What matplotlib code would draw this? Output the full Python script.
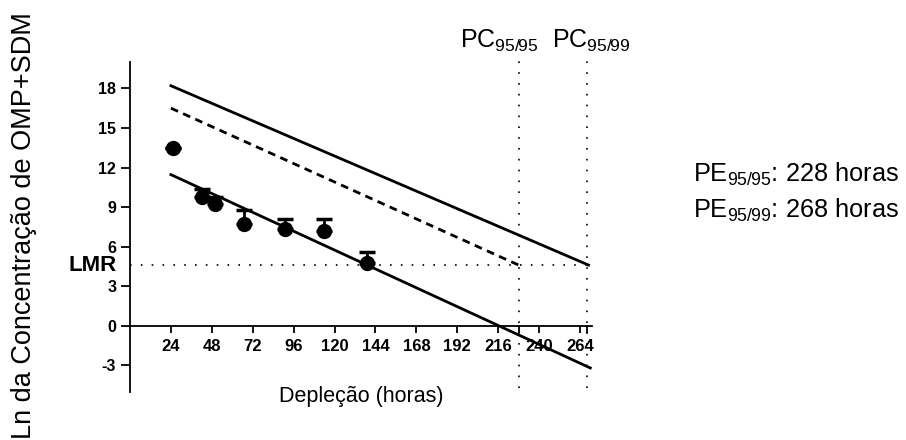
import matplotlib
matplotlib.use("Agg")
import matplotlib.pyplot as plt

plt.rcParams['font.family'] = ['Liberation Sans', 'DejaVu Sans']
plt.rcParams['axes.unicode_minus'] = False

# depletion data (hours, ln concentration, upper SD)
hours = [25, 42, 50, 67, 91, 114, 139]
ln_conc = [13.46, 9.74, 9.24, 7.72, 7.34, 7.21, 4.76]
err_up = [0.0, 0.6, 0.5, 1.08, 0.76, 0.91, 0.81]

# fitted lines (start / end points)
reg_x = [24, 270]
reg_y = [11.46, -3.2]
tol95_x = [24, 228]
tol95_y = [16.5, 4.6]
tol99_x = [24, 269]
tol99_y = [18.2, 4.6]

LMR = 4.6
pe_hours = [228, 268]
pc_labels = [r'PC$\mathregular{_{95/95}}$', r'PC$\mathregular{_{95/99}}$']
pe_labels = [r'PE$\mathregular{_{95/95}}$: 228 horas', r'PE$\mathregular{_{95/99}}$: 268 horas']

x_ticks = list(range(24, 265, 24))
y_ticks = [-3, 0, 3, 6, 9, 12, 15, 18]

fig = plt.figure(figsize=(9.06, 4.40), dpi=100)
ax = fig.add_axes([130 / 906, 1 - 391.7 / 440, 462 / 906, 329.7 / 440])

ax.plot(reg_x, reg_y, color='black', lw=2.0)
ax.plot(tol95_x, tol95_y, color='black', lw=2.0, linestyle=(0, (2.8, 2)))
ax.plot(tol99_x, tol99_y, color='black', lw=2.0)

ax.errorbar(hours, ln_conc, yerr=[[0] * len(err_up), err_up], fmt='o', color='black',
            ms=10, elinewidth=2, capsize=6, capthick=2.5, zorder=5)

# limits
ax.axhline(LMR, color='black', lw=1.2, linestyle=(0, (1, 5.5)))
for h in pe_hours:
    ax.plot([h, h], [-4.7, 20.1], color='black', lw=1.2, linestyle=(0, (1, 5.5)), clip_on=False)

ax.set_xlim(0, 271)
ax.set_ylim(-5, 20)
ax.spines['top'].set_visible(False)
ax.spines['right'].set_visible(False)
ax.spines['bottom'].set_position(('data', 0))
for s in ['left', 'bottom']:
    ax.spines[s].set_linewidth(1.3)

ax.set_xticks(x_ticks)
ax.set_xticks(pe_hours, minor=True)
ax.set_yticks(y_ticks)
ax.tick_params(axis='x', which='both', length=5, width=1.3, pad=4.5, labelsize=12)
ax.tick_params(axis='y', length=6.5, width=1.3, pad=3.5, labelsize=11.5)
for lab in ax.get_xticklabels() + ax.get_yticklabels():
    lab.set_fontweight('bold')

ax.text(-0.028, LMR, 'LMR', transform=ax.get_yaxis_transform(), ha='right', va='center',
        fontsize=16, fontweight='bold')

ax.text(216.4, 21.1, pc_labels[0], ha='center', va='baseline', fontsize=18, clip_on=False)
ax.text(270.7, 21.1, pc_labels[1], ha='center', va='baseline', fontsize=18, clip_on=False)

fig.text(693 / 906, 1 - 182 / 440, pe_labels[0], ha='left', va='baseline', fontsize=18.3)
fig.text(693 / 906, 1 - 218 / 440, pe_labels[1], ha='left', va='baseline', fontsize=18.3)

fig.text(24 / 906, 1 - 225.5 / 440, 'Ln da Concentração de OMP+SDM', rotation=90,
         ha='center', va='center', fontsize=19.5)
fig.text(361 / 906, 1 - 402 / 440, 'Depleção (horas)', ha='center', va='baseline', fontsize=15.5)

fig.savefig('out.png', dpi=100)
